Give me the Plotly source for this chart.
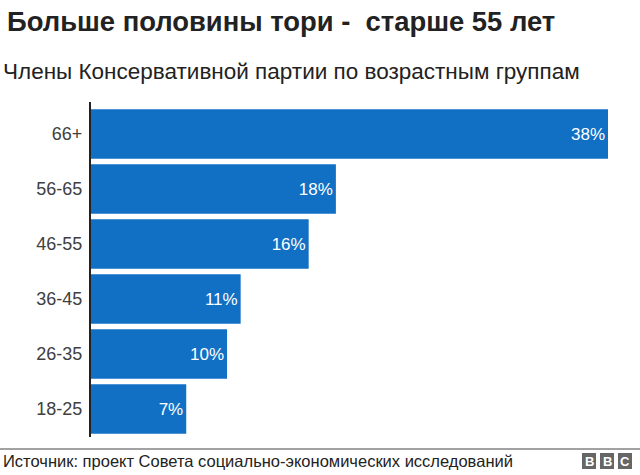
import plotly.graph_objects as go

# age groups, bottom to top
age_groups = ["18-25", "26-35", "36-45", "46-55", "56-65", "66+"]
share = [7, 10, 11, 16, 18, 38]
labels = [f"{v}%" for v in share]

title = "Больше половины тори -  старше 55 лет"
subtitle = "Члены Консервативной партии по возрастным группам"
source = "Источник: проект Совета социально-экономических исследований"

bar_col = "#1170c4"
font = "Liberation Sans, Arial, sans-serif"

# plot area in pixels
L, R, T, B = 91, 608, 102, 437
W, H = 640, 475


def px2paper(px, py):
    return (px - L) / (R - L), 1 - (py - T) / (B - T)


fig = go.Figure()
fig.add_trace(go.Bar(
    y=age_groups, x=share, orientation="h",
    marker=dict(color=bar_col, line=dict(width=0)),
    text=labels, textposition="inside", insidetextanchor="end",
    textfont=dict(color="white", size=17, family=font),
    cliponaxis=False, hoverinfo="skip",
))

fig.update_layout(
    width=W, height=H,
    margin=dict(l=L, r=W - R, t=T, b=H - B),
    paper_bgcolor="white", plot_bgcolor="white",
    showlegend=False, bargap=0.1,
    font=dict(family=font, color="#404040"),
    xaxis=dict(range=[0, 38], visible=False, fixedrange=True),
    yaxis=dict(range=[-0.509, 5.582], showgrid=False, zeroline=False,
               showline=True, linecolor="#222222", linewidth=2,
               ticks="", ticklabelstandoff=3, automargin=False, fixedrange=True,
               tickfont=dict(size=18, color="#404040", family=font)),
)

texts = [
    ("<b>" + title + "</b>", 5, 22, 27.4),
    (subtitle, 1, 72, 22.5),
    (source, 1, 461, 16.5),
]
for txt, px, py, size in texts:
    ax, ay = px2paper(px, py)
    fig.add_annotation(xref="paper", yref="paper", x=ax, y=ay, text=txt,
                       xanchor="left", yanchor="middle", showarrow=False,
                       font=dict(size=size, color="#222222", family=font))

x0, y0 = px2paper(0, 449)
x1, _ = px2paper(640, 449)
fig.add_shape(type="line", xref="paper", yref="paper", x0=x0, x1=x1, y0=y0, y1=y0,
              line=dict(color="#444444", width=1))

for i, letter in enumerate("BBC"):
    bx0, by0 = px2paper(582 + i * 18, 453)
    bx1, by1 = px2paper(596 + i * 18, 469)
    fig.add_shape(type="rect", xref="paper", yref="paper", x0=bx0, x1=bx1, y0=by1, y1=by0,
                  fillcolor="#666666", line=dict(width=0))
    fig.add_annotation(xref="paper", yref="paper", x=(bx0 + bx1) / 2, y=(by0 + by1) / 2,
                       text="<b>" + letter + "</b>", showarrow=False,
                       xanchor="center", yanchor="middle",
                       font=dict(size=13, color="white", family=font))

fig.write_html("out.html", config={"displayModeBar": False},
               post_script="document.body.style.margin='0';")
